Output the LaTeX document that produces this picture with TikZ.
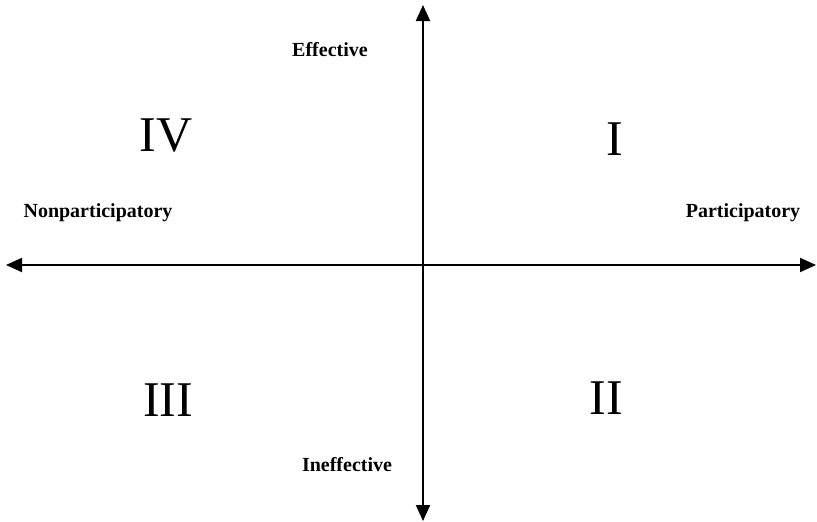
\documentclass[tikz,border=0pt]{standalone}
\usepackage{fontspec}
\setmainfont{Liberation Serif}
\usetikzlibrary{arrows.meta}
\begin{document}
\begin{tikzpicture}[x=1pt,y=-1pt,
  axis/.style={line width=2pt,{Triangle[length=16pt,width=14pt]}-{Triangle[length=16pt,width=14pt]}},
  lab/.style={font=\bfseries\fontsize{20}{24}\selectfont},
  quad/.style={font=\fontsize{50}{54}\selectfont}]
\useasboundingbox (0,0) rectangle (817,522);
\coordinate (top) at (423,5);
\coordinate (bot) at (423,521);
\coordinate (lft) at (6,265);
\coordinate (rgt) at (816,265);
\draw[axis] (bot) -- (top);
\draw[axis] (lft) -- (rgt);
\node[lab] (eff) at (330,50) {Effective};
\node[lab] (ineff) at (347,465) {Ineffective};
\node[lab] (non) at (98,213) {Nonparticipatory};
\node[lab] (par) at (743,213) {Participatory};
\node[quad] (q4) at (166,136) {IV};
\node[quad] (q1) at (615,139) {I};
\node[quad] (q3) at (168,400) {III};
\node[quad] (q2) at (606,398) {II};
\end{tikzpicture}
\end{document}
